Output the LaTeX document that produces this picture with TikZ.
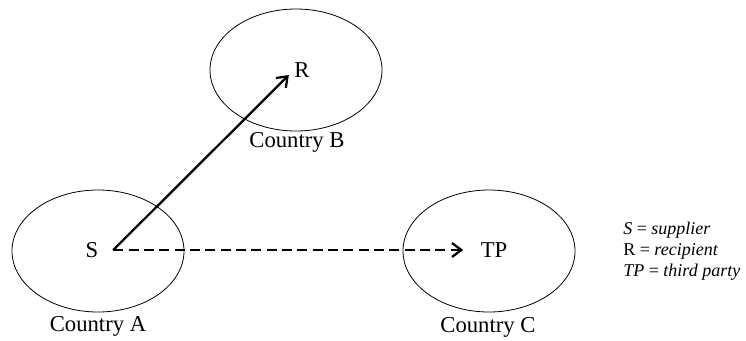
\documentclass[tikz,border=0pt]{standalone}
\usepackage{fontspec}
\setmainfont{Liberation Serif}
\usetikzlibrary{arrows.meta}
\begin{document}
\begin{tikzpicture}[x=0.75pt,y=-0.75pt,
  lbl/.style={inner sep=0pt,font=\fontsize{17}{20}\selectfont},
  actor/.style={inner sep=0pt,font=\fontsize{17}{20}\selectfont},
  legend/.style={inner sep=0pt,anchor=west,font=\fontsize{13.5}{16}\selectfont},
  flow/.style={line width=1.7pt,-{Straight Barb[length=7pt,width=10.5pt,line width=1.7pt]}},
  flowdash/.style={flow,dash pattern=on 7.5pt off 4pt}]
\useasboundingbox (0,0) rectangle (746,340);
% countries
\draw[line width=0.6pt] (98,251) ellipse [x radius=86, y radius=61];
\draw[line width=0.6pt] (296,70) ellipse [x radius=86, y radius=61];
\draw[line width=0.6pt] (489,251) ellipse [x radius=86, y radius=61];
% actors
\node[actor] (S) at (92,250) {S};
\node[actor] (R) at (302,70) {R};
\node[actor] (TP) at (494,250) {TP};
% country labels
\node[lbl] (cA) at (98,326) {Country A};
\node[lbl] (cB) at (297,142) {Country B};
\node[lbl] (cC) at (488,327) {Country C};
% legend
\node[legend] (l1) at (623,230) {\textit{S} = \textit{supplier}};
\node[legend] (l2) at (623,251) {R = \textit{recipient}};
\node[legend] (l3) at (623,272) {\textit{TP} = \textit{third party}};
% connectors
\draw[flow] ([xshift=11pt,yshift=0pt]S.east) -- ([xshift=-4pt,yshift=2pt]R.south west);
\draw[flowdash] ([xshift=11pt]S.east) -- ([xshift=-13pt]TP.west);
\end{tikzpicture}
\end{document}
